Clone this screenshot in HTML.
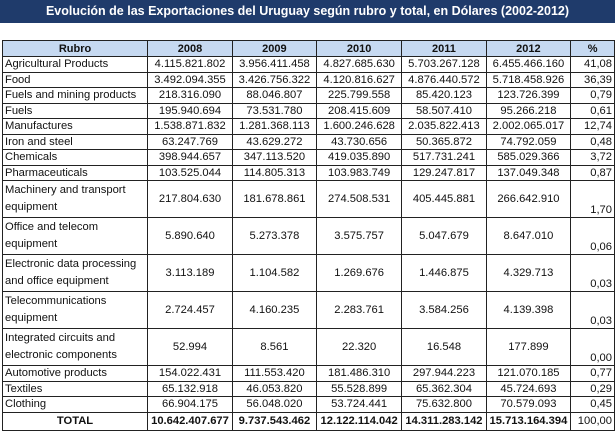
<!DOCTYPE html>
<html><head><meta charset="utf-8"><style>
body{margin:0;width:615px;height:433px;background:#fff;overflow:hidden;font-family:"Liberation Sans",Arial,sans-serif;}
.title{position:absolute;left:0;top:0;width:615px;height:23px;background:#1f3b6b;color:#fff;font-weight:bold;font-size:12.5px;line-height:23px;text-align:center;}
table{position:absolute;left:2px;top:40px;border-collapse:collapse;font-size:11.2px;color:#111;}
td,th{border:1px solid #222;padding:0 3px;white-space:nowrap;}
th{background:#c6d9f1;font-weight:bold;height:15px;font-size:11px;}
td{height:14.5px;line-height:14px;text-align:center;}
td.l{text-align:left;padding-left:2px;}
td.p{text-align:right;padding-right:2px;}
tr.d td{height:35px;}
tr.d td.l{white-space:normal;line-height:17px;vertical-align:top;padding-top:1px;}
tr.d td.p{vertical-align:bottom;}
tr.t td{font-weight:bold;height:17px;}
</style></head><body>
<div class="title">Evolución de las Exportaciones del Uruguay según rubro y total, en Dólares (2002-2012)</div>
<table>
<colgroup><col style="width:148px"><col style="width:85px"><col style="width:86px"><col style="width:86px"><col style="width:81px"><col style="width:80px"><col style="width:45px"></colgroup>
<tr><th>Rubro</th><th>2008</th><th>2009</th><th>2010</th><th>2011</th><th>2012</th><th>%</th></tr>
<tr><td class="l">Agricultural Products</td><td>4.115.821.802</td><td>3.956.411.458</td><td>4.827.685.630</td><td>5.703.267.128</td><td>6.455.466.160</td><td class="p">41,08</td></tr>
<tr><td class="l">Food</td><td>3.492.094.355</td><td>3.426.756.322</td><td>4.120.816.627</td><td>4.876.440.572</td><td>5.718.458.926</td><td class="p">36,39</td></tr>
<tr><td class="l">Fuels and mining products</td><td>218.316.090</td><td>88.046.807</td><td>225.799.558</td><td>85.420.123</td><td>123.726.399</td><td class="p">0,79</td></tr>
<tr><td class="l">Fuels</td><td>195.940.694</td><td>73.531.780</td><td>208.415.609</td><td>58.507.410</td><td>95.266.218</td><td class="p">0,61</td></tr>
<tr><td class="l">Manufactures</td><td>1.538.871.832</td><td>1.281.368.113</td><td>1.600.246.628</td><td>2.035.822.413</td><td>2.002.065.017</td><td class="p">12,74</td></tr>
<tr><td class="l">Iron and steel</td><td>63.247.769</td><td>43.629.272</td><td>43.730.656</td><td>50.365.872</td><td>74.792.059</td><td class="p">0,48</td></tr>
<tr><td class="l">Chemicals</td><td>398.944.657</td><td>347.113.520</td><td>419.035.890</td><td>517.731.241</td><td>585.029.366</td><td class="p">3,72</td></tr>
<tr><td class="l">Pharmaceuticals</td><td>103.525.044</td><td>114.805.313</td><td>103.983.749</td><td>129.247.817</td><td>137.049.348</td><td class="p">0,87</td></tr>
<tr class="d"><td class="l">Machinery and transport equipment</td><td>217.804.630</td><td>181.678.861</td><td>274.508.531</td><td>405.445.881</td><td>266.642.910</td><td class="p">1,70</td></tr>
<tr class="d"><td class="l">Office and telecom equipment</td><td>5.890.640</td><td>5.273.378</td><td>3.575.757</td><td>5.047.679</td><td>8.647.010</td><td class="p">0,06</td></tr>
<tr class="d"><td class="l">Electronic data processing and office equipment</td><td>3.113.189</td><td>1.104.582</td><td>1.269.676</td><td>1.446.875</td><td>4.329.713</td><td class="p">0,03</td></tr>
<tr class="d"><td class="l">Telecommunications equipment</td><td>2.724.457</td><td>4.160.235</td><td>2.283.761</td><td>3.584.256</td><td>4.139.398</td><td class="p">0,03</td></tr>
<tr class="d"><td class="l">Integrated circuits and electronic components</td><td>52.994</td><td>8.561</td><td>22.320</td><td>16.548</td><td>177.899</td><td class="p">0,00</td></tr>
<tr><td class="l">Automotive products</td><td>154.022.431</td><td>111.553.420</td><td>181.486.310</td><td>297.944.223</td><td>121.070.185</td><td class="p">0,77</td></tr>
<tr><td class="l">Textiles</td><td>65.132.918</td><td>46.053.820</td><td>55.528.899</td><td>65.362.304</td><td>45.724.693</td><td class="p">0,29</td></tr>
<tr><td class="l">Clothing</td><td>66.904.175</td><td>56.048.020</td><td>53.724.441</td><td>75.632.800</td><td>70.579.093</td><td class="p">0,45</td></tr>
<tr class="t"><td>TOTAL</td><td>10.642.407.677</td><td>9.737.543.462</td><td>12.122.114.042</td><td>14.311.283.142</td><td>15.713.164.394</td><td class="p" style="font-weight:normal">100,00</td></tr>
</table>
</body></html>
